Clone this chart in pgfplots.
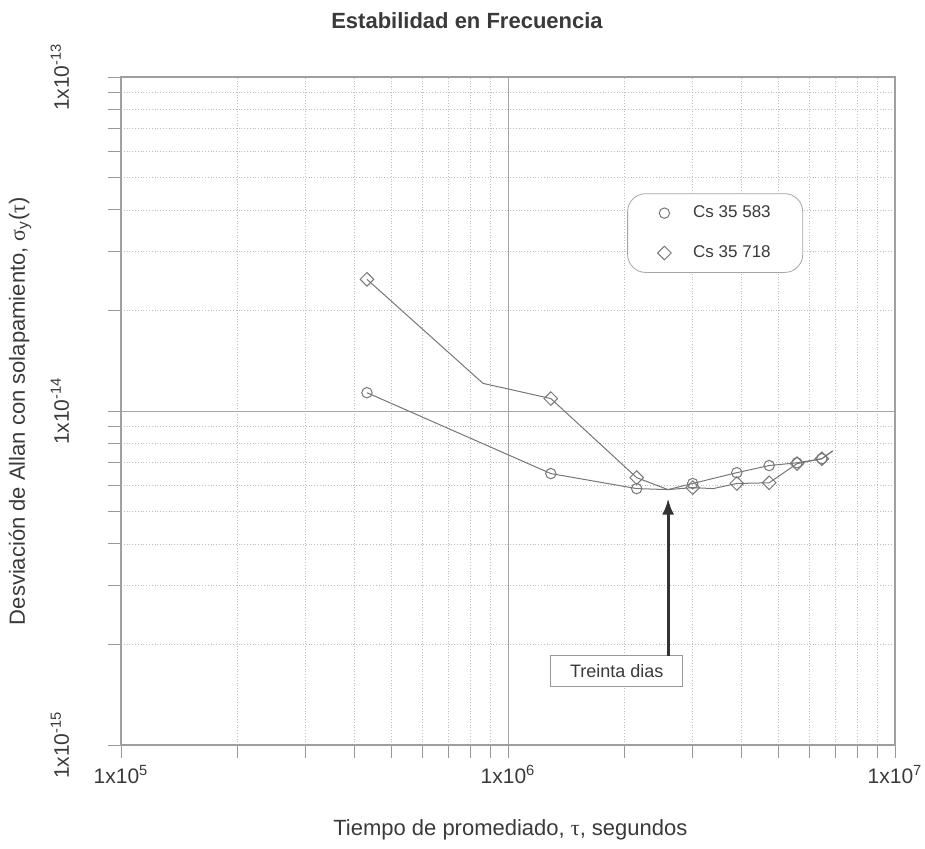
\documentclass[border=0pt]{standalone}
\usepackage{fontspec}
\setmainfont{Liberation Sans}
\newfontfamily\grk{Liberation Serif}
\usepackage{pgfplots}
\pgfplotsset{compat=1.18}
\usetikzlibrary{arrows.meta}

\definecolor{txt}{HTML}{3A3A3A}
\definecolor{ln}{HTML}{767676}

\begin{document}
\begin{tikzpicture}
\path[use as bounding box] (0pt,0pt) rectangle (462.5pt,424pt);
\begin{axis}[
  at={(60.5pt,51.5pt)}, anchor=south west,
  width=387pt, height=334pt, scale only axis,
  xmode=log, ymode=log,
  xmin=1e5, xmax=1e7, ymin=1e-15, ymax=1e-13,
  axis line style={gray!75, line width=0.6pt},
  grid=both,
  major grid style={gray!70, line width=0.5pt},
  minor grid style={gray!50, densely dotted, line width=0.4pt},
  tick align=outside, xtick pos=left, ytick pos=left,
  major tick length=6.5pt, minor tick length=6.5pt,
  tick style={gray!80, line width=0.5pt},
  xtick={1e5,1e6,1e7},
  xticklabels={1x10\textsuperscript{5},1x10\textsuperscript{6},1x10\textsuperscript{7}},
  ytick={1e-15,1e-14,1e-13},
  yticklabels={1x10\textsuperscript{-15},1x10\textsuperscript{-14},1x10\textsuperscript{-13}},
  ticklabel style={font=\fontsize{10.5}{12}\selectfont, text=txt},
  xticklabel style={yshift=0pt},
  yticklabel style={xshift=-16pt, rotate=90, anchor=south},
  xlabel={Tiempo de promediado, {\grk τ}, segundos},
  ylabel={Desviación de Allan con solapamiento, {\grk σ}\textsubscript{y}({\grk τ})},
  label style={font=\fontsize{11}{13}\selectfont, text=txt},
  xlabel style={at={(axis description cs:0.503,-0.127)}, anchor=center},
  ylabel style={at={(axis description cs:-0.1305,0.5)}, anchor=center},
  title={Estabilidad en Frecuencia},
  title style={at={(axis description cs:0.447,1.067)}, anchor=center,
    font=\bfseries\fontsize{11}{13}\selectfont, text=txt},
  legend style={at={(axis description cs:0.654,0.826)}, anchor=north west,
    draw=gray!70, rounded corners=9pt, fill=white,
    font=\fontsize{8.5}{10}\selectfont, text=txt,
    inner xsep=15pt, inner ysep=5pt, row sep=10.5pt, column sep=10pt,
    nodes={inner sep=1pt}},
  legend cell align=left,
  legend image code/.code={\draw[#1, sharp corners] plot coordinates {(0pt,0pt)};},
]

% Cs 35 583 trace
\addplot[ln, line width=0.5pt, forget plot] coordinates {
  (4.32e5,1.135e-14) (1.29e6,6.5e-15) (2.15e6,5.86e-15) (2.59e6,5.82e-15)
  (3.0e6,6.07e-15) (3.9e6,6.54e-15) (4.73e6,6.87e-15) (5.58e6,7.0e-15)
  (6.47e6,7.2e-15) (6.9e6,7.6e-15)};
% Cs 35 718 trace
\addplot[ln, line width=0.5pt, forget plot] coordinates {
  (4.32e5,2.48e-14) (8.62e5,1.21e-14) (9.9e5,1.168e-14) (1.29e6,1.09e-14)
  (2.15e6,6.32e-15) (2.59e6,5.82e-15) (3.0e6,5.9e-15) (3.39e6,5.86e-15)
  (3.9e6,6.07e-15) (4.73e6,6.1e-15) (5.58e6,6.96e-15) (6.47e6,7.2e-15)
  (6.9e6,7.6e-15)};

\addplot[only marks, mark=o, mark size=2.6pt, ln, line width=0.5pt] coordinates {
  (4.32e5,1.135e-14) (1.29e6,6.5e-15) (2.15e6,5.86e-15) (3.0e6,6.07e-15)
  (3.9e6,6.54e-15) (4.73e6,6.87e-15) (5.58e6,7.0e-15) (6.47e6,7.2e-15)};
\addplot[only marks, mark=square, mark options={rotate=45}, mark size=2.4pt,
  ln, line width=0.5pt] coordinates {
  (4.32e5,2.48e-14) (1.29e6,1.09e-14) (2.15e6,6.32e-15) (3.0e6,5.9e-15)
  (3.9e6,6.07e-15) (4.73e6,6.1e-15) (5.58e6,6.96e-15) (6.47e6,7.2e-15)};
\legend{Cs 35 583, Cs 35 718}

% thirty-day marker
\node[draw=gray!80, fill=white, font=\fontsize{9}{11}\selectfont, text=txt,
  minimum width=66pt, minimum height=15.5pt, inner sep=0pt]
  at (axis cs:1.91e6,1.667e-15) {Treinta dias};
\draw[-{Latex[length=8pt,width=6pt]}, line width=1.4pt, black!80]
  (axis cs:2.592e6,1.85e-15) -- (axis cs:2.592e6,5.47e-15);
\end{axis}
\end{tikzpicture}
\end{document}
